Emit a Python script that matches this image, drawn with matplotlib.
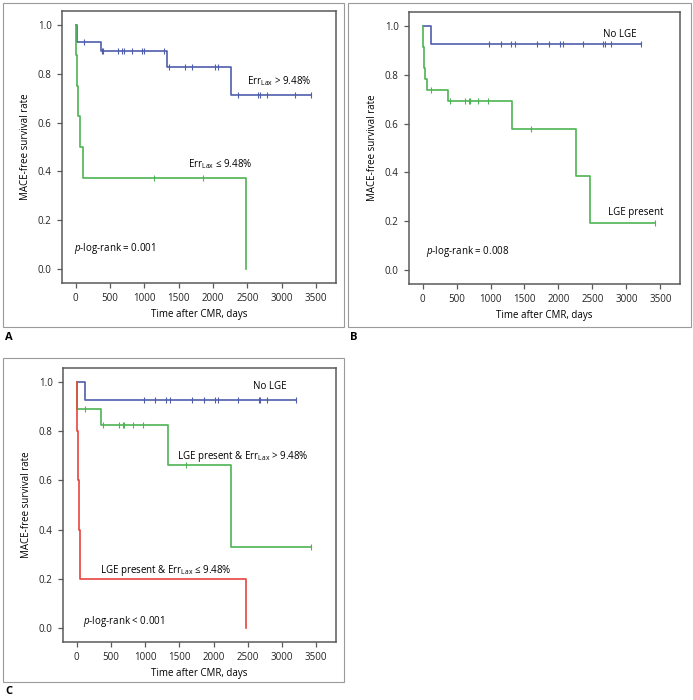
import numpy as np
import matplotlib
matplotlib.use('Agg')
import matplotlib.pyplot as plt
from matplotlib.patches import Rectangle


# =========================
# 字体设置
# =========================

plt.rcParams['font.family'] = ['Open Sans', 'DejaVu Sans']
plt.rcParams['mathtext.fontset'] = 'custom'
plt.rcParams['mathtext.rm'] = 'Open Sans'
plt.rcParams['mathtext.it'] = 'Open Sans:italic'
plt.rcParams['font.size'] = 7


# =========================
# 数据
# =========================

# A: Err_Lax > 9.48%
a_hi_t = [0, 15, 365, 1330, 2255]
a_hi_s = [1.0, 0.932, 0.894, 0.829, 0.711]
a_hi_cens = [120, 380, 395, 617, 680, 700, 821, 958, 992, 1290, 1356,
             1590, 1687, 2027, 2076, 2367, 2659, 2683, 2780, 3194, 3430]

# A: Err_Lax <= 9.48%
a_lo_t = [0, 5, 24, 39, 58, 107, 2474]
a_lo_s = [1.0, 0.875, 0.75, 0.625, 0.5, 0.375, 0.0]
a_lo_cens = [1142, 1857]

# B / C: No LGE
no_lge_t = [0, 125]
no_lge_s = [1.0, 0.927]
no_lge_cens = [979, 1150, 1302, 1361, 1689, 1860, 2022, 2071, 2364,
               2658, 2683, 2781, 3211]

# B: LGE present
b_lge_t = [0, 5, 12, 20, 28, 40, 60, 372, 1322, 2252, 2472]
b_lge_s = [1.0, 0.957, 0.913, 0.870, 0.826, 0.783, 0.739, 0.693, 0.576,
           0.384, 0.192]
b_lge_cens = [127, 406, 627, 685, 700, 822, 969, 1596, 3427]

# C: LGE present & Err_Lax > 9.48%
c_hi_t = [0, 10, 356, 1328, 2255]
c_hi_s = [1.0, 0.889, 0.826, 0.661, 0.33]
c_hi_cens = [122, 390, 620, 683, 698, 820, 967, 1596, 3427]

# C: LGE present & Err_Lax <= 9.48%
c_lo_t = [0, 5, 15, 29, 49, 2475]
c_lo_s = [1.0, 0.8, 0.6, 0.4, 0.2, 0.0]
c_lo_cens = []

x_ticks = [0, 500, 1000, 1500, 2000, 2500, 3000, 3500]
y_ticks = [0.0, 0.2, 0.4, 0.6, 0.8, 1.0]

BLUE = '#4f5eab'
GREEN = '#4db453'
RED = '#e8443f'
SPINE = '#5a5a5a'

ERR_HI = r'Err$_{\mathrm{Lax}}$ > 9.48%'
ERR_LO = r'Err$_{\mathrm{Lax}}$ ≤ 9.48%'


def km_curve(ax, t, s, cens, color):
    t = list(t)
    s = list(s)
    # 延长到最后一个删失点
    if cens and max(cens) > t[-1]:
        t = t + [max(cens)]
        s = s + [s[-1]]
    ax.step(t, s, where='post', color=color, linewidth=1.2)
    if cens:
        idx = np.searchsorted(t, cens, side='right') - 1
        ys = np.array(s)[idx]
        ax.plot(cens, ys, linestyle='none', marker='|', color=color,
                markersize=4.5, markeredgewidth=0.8)


def setup_axes(ax):
    ax.set_xlim(-200, 3790)
    ax.set_ylim(-0.057, 1.057)
    ax.set_xticks(x_ticks)
    ax.set_yticks(y_ticks)
    ax.set_yticklabels(['%.1f' % v for v in y_ticks])
    for sp in ax.spines.values():
        sp.set_color(SPINE)
        sp.set_linewidth(1.1)
    ax.tick_params(direction='out', length=3.5, width=0.9, color=SPINE,
                   labelsize=7, pad=4, labelcolor='#222222')
    ax.set_xlabel('Time after CMR, days', fontsize=7, labelpad=3)
    ax.set_ylabel('MACE-free survival rate', fontsize=7, labelpad=5)


fig = plt.figure(figsize=(6.93, 7.0), dpi=100)
W, H = 693.0, 700.0


def px_axes(left, top, right, bottom):
    return fig.add_axes([left / W, 1 - bottom / H,
                         (right - left) / W, (bottom - top) / H])


def px_box(left, top, right, bottom):
    fig.patches.append(Rectangle((left / W, 1 - bottom / H),
                                 (right - left) / W, (bottom - top) / H,
                                 transform=fig.transFigure, fill=False,
                                 edgecolor='#9a9a9a', linewidth=0.8))


# 外框
px_box(3, 3, 344, 327)
px_box(348, 3, 691, 327)
px_box(3, 358, 344, 682)

# =========================
# A
# =========================
ax = px_axes(62, 11, 336, 283)
setup_axes(ax)
km_curve(ax, a_hi_t, a_hi_s, a_hi_cens, BLUE)
km_curve(ax, a_lo_t, a_lo_s, a_lo_cens, GREEN)
ax.text(2490, 0.77, ERR_HI, va='center', fontsize=7)
ax.text(1640, 0.43, ERR_LO, va='center', fontsize=7)
ax.text(-30, 0.085, r'$\it{p}$-log-rank = 0.001', va='center', fontsize=7)

# =========================
# B
# =========================
ax = px_axes(409, 12, 680, 284)
setup_axes(ax)
km_curve(ax, no_lge_t, no_lge_s, no_lge_cens, BLUE)
km_curve(ax, b_lge_t, b_lge_s, b_lge_cens, GREEN)
ax.text(2660, 0.965, 'No LGE', va='center', fontsize=7)
ax.text(2730, 0.235, 'LGE present', va='center', fontsize=7)
ax.text(55, 0.075, r'$\it{p}$-log-rank = 0.008', va='center', fontsize=7)

# =========================
# C
# =========================
ax = px_axes(63, 368, 336, 642)
setup_axes(ax)
km_curve(ax, no_lge_t, no_lge_s, no_lge_cens, BLUE)
km_curve(ax, c_hi_t, c_hi_s, c_hi_cens, GREEN)
km_curve(ax, c_lo_t, c_lo_s, c_lo_cens, RED)
ax.text(2575, 0.98, 'No LGE', va='center', fontsize=7)
ax.text(1465, 0.696, 'LGE present & ' + ERR_HI, va='center', fontsize=7)
ax.text(342, 0.233, 'LGE present & ' + ERR_LO, va='center', fontsize=7)
ax.text(88, 0.026, r'$\it{p}$-log-rank < 0.001', va='center', fontsize=7)

# 面板标签
fig.text(5 / W, 1 - 338 / H, 'A', fontsize=8, fontweight='bold', va='center')
fig.text(350 / W, 1 - 338 / H, 'B', fontsize=8, fontweight='bold', va='center')
fig.text(5 / W, 1 - 692 / H, 'C', fontsize=8, fontweight='bold', va='center')

fig.savefig('out.png', dpi=100)
